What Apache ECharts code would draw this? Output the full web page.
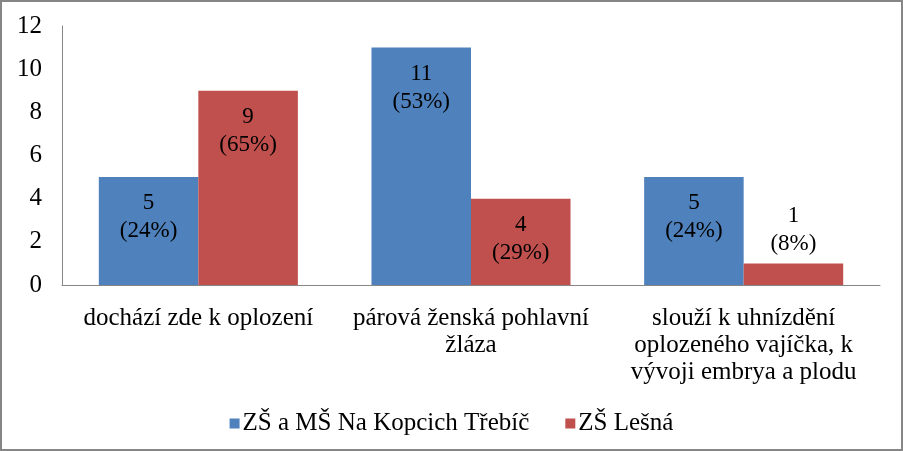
<!DOCTYPE html>
<html><head><meta charset="utf-8">
<script src="https://cdn.jsdelivr.net/npm/echarts@6/dist/echarts.min.js"></script>
<style>
html,body{margin:0;padding:0;background:#fff;}
#c{width:903px;height:451px;box-sizing:border-box;border:2px solid #868686;}
</style></head>
<body><div id="c"></div>
<script>
const categories = ['dochází zde k oplození', 'párová ženská pohlavní\nžláza', 'slouží k uhnízdění\noplozeného vajíčka, k\nvývoji embrya a plodu'];
const seriesNames = ['ZŠ a MŠ Na Kopcich Třebíč', 'ZŠ Lešná'];
const kopciValues = [5, 11, 5];
const kopciPercents = ['24%', '53%', '24%'];
const lesnaValues = [9, 4, 1];
const lesnaPercents = ['65%', '29%', '8%'];
const yTicks = { min: 0, max: 12, interval: 2 };

const FONT = '"Liberation Serif", "Times New Roman", serif';
function makeData(values, percents) {
  return values.map((v, i) => {
    const item = { value: v, pct: percents[i] };
    if (v < 2) item.label = { position: 'top', distance: 5 };
    return item;
  });
}
function labelCfg() {
  return {
    show: true, position: 'insideTop', distance: 12,
    fontFamily: FONT, fontSize: 23, lineHeight: 28, color: '#000',
    formatter: p => p.value + '\n(' + p.data.pct + ')'
  };
}
const chart = echarts.init(document.getElementById('c'));
chart.setOption({
  animation: false,
  textStyle: { fontFamily: FONT },
  grid: { left: 60, right: 21, top: 24, bottom: 164 },
  legend: {
    bottom: 8, left: 'center', itemWidth: 10, itemHeight: 10, itemGap: 36,
    icon: 'rect',
    textStyle: { fontFamily: FONT, fontSize: 25, color: '#000', padding: [0, 0, 0, -2] },
    data: seriesNames
  },
  xAxis: {
    type: 'category', data: categories,
    axisLine: { lineStyle: { color: '#868686', width: 1 } },
    axisTick: { show: false },
    axisLabel: { fontFamily: FONT, fontSize: 25, color: '#000', lineHeight: 27, margin: 20, interval: 0 }
  },
  yAxis: {
    type: 'value', min: yTicks.min, max: yTicks.max, interval: yTicks.interval,
    splitLine: { show: false },
    axisLine: { show: true, lineStyle: { color: '#868686', width: 1 } },
    axisTick: { show: false },
    axisLabel: { fontFamily: FONT, fontSize: 25, color: '#000', margin: 20 }
  },
  series: [
    { name: seriesNames[0], type: 'bar', data: makeData(kopciValues, kopciPercents),
      itemStyle: { color: '#4F81BD' }, barGap: '0%', barCategoryGap: '27%', label: labelCfg() },
    { name: seriesNames[1], type: 'bar', data: makeData(lesnaValues, lesnaPercents),
      itemStyle: { color: '#C0504D' }, barGap: '0%', barCategoryGap: '27%', label: labelCfg() }
  ]
});
</script></body></html>
